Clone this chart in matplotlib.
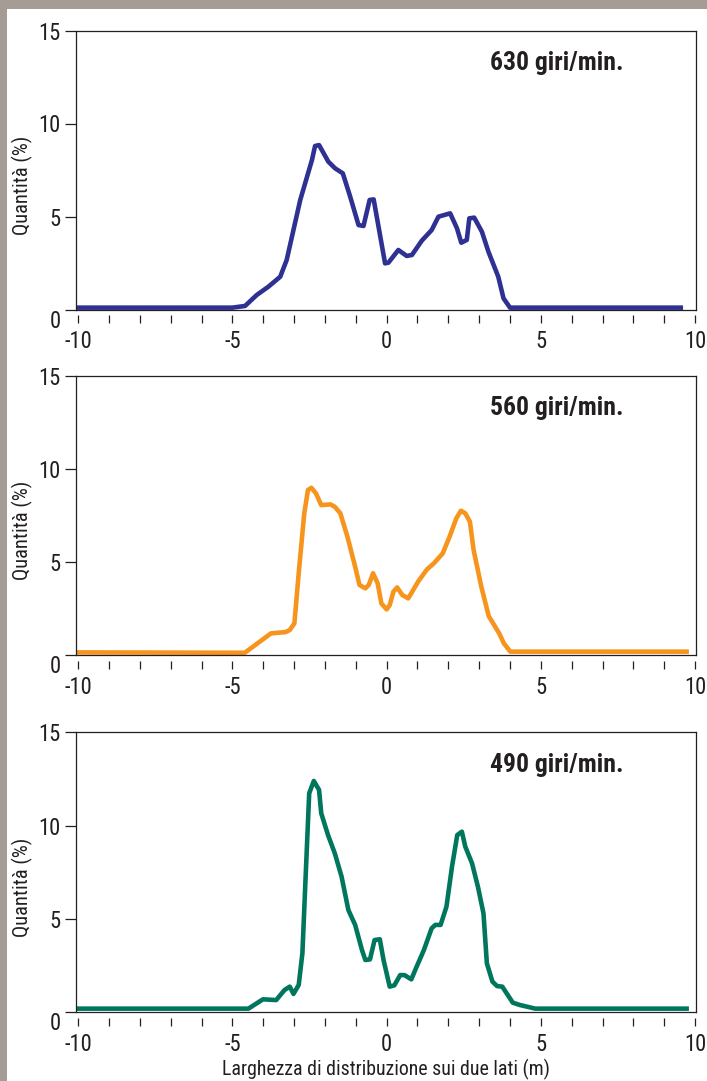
import numpy as np
import matplotlib.pyplot as plt
from matplotlib import font_manager as fm
from matplotlib.font_manager import FontProperties
from matplotlib.textpath import TextPath
from matplotlib.patches import Rectangle
from matplotlib.transforms import ScaledTranslation

# a condensed grotesque like the original; take the first one installed
avail = {f.name for f in fm.fontManager.ttflist}
cands = ['Liberation Sans Narrow', 'Roboto Condensed', 'Archivo Narrow', 'PT Sans Narrow',
         'Fira Sans Extra Condensed']
fam = next((c for c in cands if c in avail), 'Liberation Sans')
plt.rcParams['font.family'] = [fam, 'DejaVu Sans']
plt.rcParams['axes.unicode_minus'] = False

# distribution width (m) and quantity (%)
x630 = [-10.1, -5.0, -4.59, -4.21, -3.83, -3.45, -3.24, -2.80, -2.42, -2.32, -2.19, -1.89,
        -1.67, -1.42, -1.18, -0.91, -0.75, -0.55, -0.42, -0.05, 0.06, 0.38, 0.65, 0.82,
        1.14, 1.46, 1.68, 2.06, 2.28, 2.42, 2.60, 2.68, 2.84, 3.09, 3.30, 3.62, 3.79,
        4.00, 9.61]
y630 = [0.1, 0.1, 0.19, 0.78, 1.23, 1.76, 2.66, 5.89, 8.04, 8.79, 8.84, 7.95,
        7.59, 7.32, 6.06, 4.54, 4.49, 5.89, 5.92, 2.48, 2.52, 3.20, 2.88, 2.93,
        3.70, 4.27, 4.99, 5.17, 4.37, 3.59, 3.74, 4.90, 4.94, 4.18, 3.11, 1.76, 0.60,
        0.1, 0.1]

x560 = [-10.05, -4.60, -3.75, -3.28, -3.14, -2.99, -2.85, -2.67, -2.55, -2.44, -2.29, -2.12,
        -1.82, -1.68, -1.50, -1.27, -1.02, -0.88, -0.69, -0.58, -0.44, -0.29, -0.17, 0.00,
        0.10, 0.22, 0.34, 0.51, 0.70, 0.83, 1.02, 1.31, 1.53, 1.82, 2.04, 2.26, 2.41,
        2.55, 2.70, 2.82, 3.07, 3.31, 3.65, 3.80, 4.01, 9.80]
y560 = [0.14, 0.12, 1.16, 1.23, 1.34, 1.70, 4.39, 7.61, 8.86, 8.98, 8.68, 8.05,
        8.09, 7.96, 7.61, 6.35, 4.74, 3.76, 3.58, 3.76, 4.39, 3.85, 2.77, 2.45,
        2.68, 3.40, 3.63, 3.22, 3.04, 3.40, 3.94, 4.60, 4.92, 5.46, 6.35, 7.34, 7.75,
        7.61, 7.16, 5.64, 3.67, 2.09, 1.16, 0.63, 0.18, 0.18]

x490 = [-10.05, -4.48, -4.01, -3.58, -3.31, -3.14, -3.02, -2.85, -2.73, -2.63, -2.51, -2.36,
        -2.19, -2.12, -1.90, -1.68, -1.46, -1.24, -1.02, -0.80, -0.69, -0.54, -0.39, -0.22,
        -0.10, 0.10, 0.25, 0.44, 0.58, 0.80, 0.95, 1.21, 1.46, 1.58, 1.75, 1.94, 2.12,
        2.29, 2.44, 2.55, 2.77, 2.96, 3.14, 3.25, 3.43, 3.58, 3.75, 4.09, 4.31, 4.82,
        9.80]
y490 = [0.18, 0.18, 0.68, 0.64, 1.18, 1.36, 0.97, 1.45, 3.15, 7.08, 11.73, 12.39,
        11.91, 10.66, 9.49, 8.51, 7.26, 5.47, 4.67, 3.33, 2.79, 2.82, 3.86, 3.90,
        2.79, 1.36, 1.43, 1.98, 1.98, 1.75, 2.34, 3.33, 4.49, 4.67, 4.67, 5.65, 7.80,
        9.49, 9.67, 8.87, 7.97, 6.72, 5.29, 2.61, 1.63, 1.39, 1.36, 0.50, 0.38, 0.18,
        0.18]

titles = ['630 giri/min.', '560 giri/min.', '490 giri/min.']
colors = ['#2e3192', '#f7941d', '#00775c']
series = [(x630, y630), (x560, y560), (x490, y490)]
ylab = 'Quantità (%)'
xlab = 'Larghezza di distribuzione sui due lati (m)'


def fit_size(s, width_px, weight='normal'):
    # font size (pt) that gives the text an ink width of width_px at 100 dpi
    tp = TextPath((0, 0), s, size=10, prop=FontProperties(family=fam, weight=weight))
    w = tp.get_extents().width * 100 / 72
    return 10 * width_px / w


title_fs = fit_size(titles[0], 130, 'bold')
xlab_fs = fit_size(xlab, 325)
ylab_fs = fit_size(ylab, 97)
tick_fs = fit_size('-10', 26)

W, H = 707, 1081
fig = plt.figure(figsize=(W / 100, H / 100), dpi=100, facecolor='#a69c96')
fig.patches.append(Rectangle((7 / W, 0), 1, 1 - 9 / H, transform=fig.transFigure,
                             facecolor='white', edgecolor='none', zorder=-1))

# pixel rows of the x axis (y=0) and top (y=15) for each panel
rows = [(309.5, 30.5), (655.0, 375.7), (1012.0, 732.3)]
ink = '#231f20'

for (xs, ys), title, col, (y0, y15) in zip(series, titles, colors, rows):
    ax = fig.add_axes([76 / W, 1 - y0 / H, 620 / W, (y0 - y15) / H])
    ax.plot(xs, ys, color=col, lw=3.3, solid_joinstyle='round', solid_capstyle='butt')

    ax.set_xlim(-10.07, 10.03)
    ax.set_ylim(0, 15)
    for sp in ax.spines.values():
        sp.set_color(ink)
        sp.set_linewidth(0.9)

    # detached tick marks under the axis, one per metre
    ax.vlines(np.arange(-10, 11), -0.3, -0.73, color=ink, lw=0.9, clip_on=False)

    ax.set_xticks([-10, -5, 0, 5, 10])
    ax.set_yticks([0, 5, 10, 15])
    ax.tick_params(axis='x', length=0, pad=15, labelsize=tick_fs, colors=ink)
    ax.tick_params(axis='y', length=8, width=0.9, pad=3, labelsize=tick_fs, colors=ink)
    lab0 = ax.get_yticklabels()[0]
    lab0.set_transform(lab0.get_transform() + ScaledTranslation(0, -9 / 100, fig.dpi_scale_trans))

    ax.set_ylabel(ylab, fontsize=ylab_fs, color=ink, va='center')
    ax.yaxis.set_label_coords(-0.087, 0.446)

    ax.text(0.668, 0.858, title, transform=ax.transAxes, fontsize=title_fs,
            fontweight='bold', color=ink, ha='left', va='baseline')

ax.set_xlabel(xlab, fontsize=xlab_fs, color=ink, labelpad=2)

fig.savefig('out.png', dpi=100, facecolor=fig.get_facecolor())
